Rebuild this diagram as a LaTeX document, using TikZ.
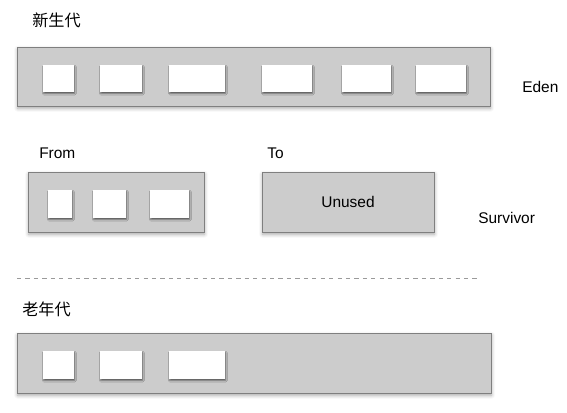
\documentclass[tikz,border=0pt]{standalone}
\usepackage{fontspec}
\setmainfont{Liberation Sans}
\newfontfamily\cjk{Noto Sans CJK SC}
\usepackage{tikz}
\usetikzlibrary{shadows.blur}
\definecolor{cArea}{HTML}{CCCCCC}
\definecolor{cAreaB}{HTML}{7F7F7F}
\definecolor{cDash}{HTML}{9A9A9A}

\begin{document}
\begin{tikzpicture}[
  every node/.style={font=\fontsize{11}{13}\selectfont},
  area/.style={draw=cAreaB, fill=cArea, line width=0.6pt, minimum height=1.5cm, inner sep=0pt, blur shadow={shadow xshift=0.4pt, shadow yshift=-1.6pt, shadow blur radius=2.5pt, shadow opacity=35}},
  obj/.style={fill=white, minimum height=0.7cm, inner sep=0pt, blur shadow={shadow xshift=0.6pt, shadow yshift=-1.2pt, shadow blur radius=1pt, shadow opacity=55}},
  lbl/.style={anchor=west, inner sep=0pt},
  gen/.style={anchor=west, inner sep=0pt, font=\cjk\fontsize{11.5}{13}\selectfont}
]
\useasboundingbox (0,0) rectangle (14.175,-10.3);

% Young generation: Eden
\node[gen] (young) at (0.8,-0.5) {新生代};
\node[area, minimum width=11.825cm, minimum height=1.475cm] (eden) at (6.3375,-1.9125) {};
\node[obj, minimum width=0.775cm, minimum height=0.675cm] (e1) at (1.4625,-1.9625) {};
\node[obj, minimum width=1.05cm, minimum height=0.675cm] (e2) at (3.025,-1.9625) {};
\node[obj, minimum width=1.4cm, minimum height=0.675cm] (e3) at (4.925,-1.9625) {};
\node[obj, minimum width=1.25cm, minimum height=0.675cm] (e4) at (7.175,-1.9625) {};
\node[obj, minimum width=1.225cm, minimum height=0.675cm] (e5) at (9.1625,-1.9625) {};
\node[obj, minimum width=1.25cm, minimum height=0.675cm] (e6) at (11.025,-1.9625) {};
\node[lbl] (edenlbl) at (13.05,-2.175) {Eden};

% Survivor spaces
\node[lbl] (fromlbl) at (0.975,-3.825) {From};
\node[lbl] (tolbl) at (6.675,-3.825) {To};
\node[area, minimum width=4.4cm] (from) at (2.9,-5.05) {};
\node[obj, minimum width=0.6cm] (f1) at (1.5,-5.1) {};
\node[obj, minimum width=0.825cm] (f2) at (2.7375,-5.1) {};
\node[obj, minimum width=0.975cm] (f3) at (4.2375,-5.1) {};
\node[area, minimum width=4.3cm] (to) at (8.7,-5.05) {Unused};
\node[lbl] (survlbl) at (11.95,-5.45) {Survivor};

% Separator
\coordinate (sepL) at (0.425,-6.95);
\coordinate (sepR) at (11.925,-6.95);
\draw[cDash, dashed, dash pattern=on 3pt off 3pt, line width=0.5pt] (sepL) -- (sepR);

% Old generation
\node[gen] (old) at (0.55,-7.725) {老年代};
\node[area, minimum width=11.85cm] (tenured) at (6.35,-9.075) {};
\node[obj, minimum width=0.775cm] (o1) at (1.4625,-9.125) {};
\node[obj, minimum width=1.05cm] (o2) at (3.025,-9.125) {};
\node[obj, minimum width=1.4cm] (o3) at (4.925,-9.125) {};
\end{tikzpicture}
\end{document}
